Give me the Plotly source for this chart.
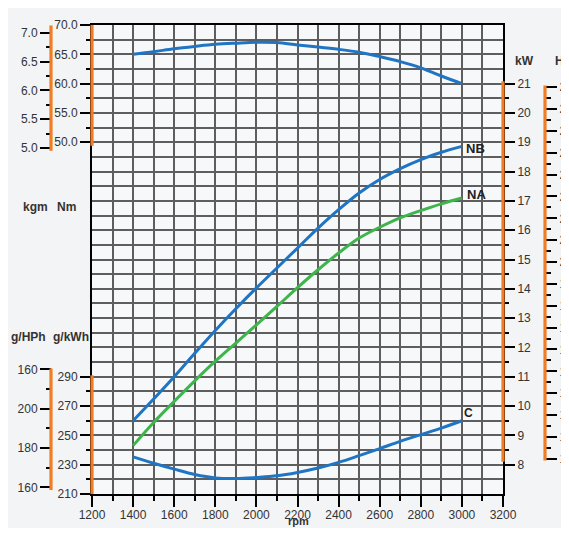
import plotly.graph_objects as go

# ---------------- data ----------------
rpm = [1400, 1500, 1600, 1700, 1800, 1900, 2000, 2100, 2200,
       2300, 2400, 2500, 2600, 2700, 2800, 2900, 3000]
torque_nm = [65.0, 65.45, 65.95, 66.35, 66.7, 66.9, 67.05, 67.0, 66.6,
             66.25, 65.85, 65.35, 64.6, 63.75, 62.7, 61.3, 60.0]
power_nb_kw = [9.5, 10.24, 11.0, 11.8, 12.58, 13.32, 14.03, 14.71, 15.39,
               16.07, 16.7, 17.27, 17.73, 18.1, 18.41, 18.66, 18.86]
power_na_kw = [8.65, 9.44, 10.16, 10.86, 11.53, 12.15, 12.77, 13.4, 14.04,
               14.65, 15.22, 15.73, 16.1, 16.42, 16.67, 16.9, 17.1]
bsfc_c = [235.3, 231.0, 227.0, 223.3, 221.0, 220.6, 221.3, 222.4, 224.7,
          227.7, 231.6, 236.2, 241.0, 245.9, 250.5, 255.0, 260.0]

x_ticks = list(range(1200, 3201, 200))
nm_ticks = [50.0, 55.0, 60.0, 65.0, 70.0]
kgm_ticks = [5.0, 5.5, 6.0, 6.5, 7.0]
gkwh_ticks = [210, 230, 250, 270, 290]
ghph_ticks = [160, 180, 200, 220]
ghph_labels = ["160", "180", "200", "160"]
kw_ticks = list(range(8, 22))
hp_ticks = list(range(11, 29))

# unit conversions
NM_PER_KGM = 9.80665
KW_PER_HP = 0.7457

# ---------------- layout geometry ----------------
# the page body has an 8px margin, so the figure starts at (8, 8);
# keep the page from overflowing (no scrollbars)
OFF = 8
WF, HF = 569 - OFF, 536 - 2 * OFF


def px(x):
    return (x - OFF) / WF


def py(y):
    return 1 - (y - OFF) / HF


XL, XR = 92, 503
YT, YB = 25, 494
dom_x = [px(XL), px(XR)]
dom_y = [py(YB), py(YT)]
pos_left2 = px(51)
pos_right2 = px(545)

GKWH_RANGE = [210, 530]
NM_RANGE = [-10, 70]
KW_RANGE = [7, 23]

ORANGE = "#f07d24"
BLUE = "#1f74c4"
GREEN = "#3db54a"
GRID = "#5e5e5e"
TXT = "#333333"
FONT = "Liberation Sans Narrow, Arial Narrow, Liberation Sans, Arial, sans-serif"

fig = go.Figure()

fig.add_trace(go.Scatter(x=rpm, y=bsfc_c, yaxis="y", mode="lines",
                         line=dict(color=BLUE, width=3, shape="spline"),
                         name="C", hoverinfo="skip"))
fig.add_trace(go.Scatter(x=rpm, y=torque_nm, yaxis="y3", mode="lines",
                         line=dict(color=BLUE, width=3, shape="spline"),
                         name="Torque", hoverinfo="skip"))
fig.add_trace(go.Scatter(x=rpm, y=power_nb_kw, yaxis="y5", mode="lines",
                         line=dict(color=BLUE, width=3, shape="spline"),
                         name="NB", hoverinfo="skip"))
fig.add_trace(go.Scatter(x=rpm, y=power_na_kw, yaxis="y5", mode="lines",
                         line=dict(color=GREEN, width=3, shape="spline"),
                         name="NA", hoverinfo="skip"))
# empty traces so that the tick-only axes are registered
for ax in ("y2", "y4", "y6", "y7"):
    fig.add_trace(go.Scatter(x=[None], y=[None], yaxis=ax, mode="lines",
                             showlegend=False, hoverinfo="skip"))

tickfont = dict(family=FONT, size=12, color=TXT)


def mids(vals):
    return [(a + b) / 2 for a, b in zip(vals[:-1], vals[1:])]


def minor_ticks(vals):
    return dict(tickvals=mids(vals), ticks="outside", ticklen=5,
                tickwidth=1.5, tickcolor="black", showgrid=False)


common_tick_axis = dict(showgrid=False, zeroline=False, showline=False,
                        ticks="outside", ticklen=11, tickwidth=1.5,
                        tickcolor="black", tickfont=tickfont,
                        tickmode="array", fixedrange=True, automargin=False,
                        ticklabeloverflow="allow")

fig.update_layout(
    width=WF, height=HF, autosize=False,
    margin=dict(l=0, r=0, t=0, b=0, pad=0),
    paper_bgcolor="#f3f4f5",
    plot_bgcolor="#f7f8f9",
    showlegend=False,
    xaxis=dict(domain=dom_x, range=[1200, 3200], anchor="y",
               showgrid=True, gridcolor=GRID, gridwidth=1.6,
               tickmode="array", tickvals=x_ticks,
               ticks="outside", ticklen=11, tickwidth=1.5, tickcolor="black",
               ticklabelstandoff=-2,
               minor=dict(tickvals=mids(x_ticks), ticks="outside", ticklen=5,
                          tickwidth=1.5, tickcolor="black", showgrid=True,
                          gridcolor=GRID, gridwidth=1.6),
               showline=True, linecolor="black", linewidth=1.6, mirror=True,
               zeroline=False, tickfont=tickfont, fixedrange=True,
               automargin=False, ticklabeloverflow="allow"),
    # grid axis (g/kWh scale)
    yaxis=dict(domain=dom_y, range=GKWH_RANGE, anchor="x",
               tickmode="linear", tick0=210, dtick=10,
               showgrid=True, gridcolor=GRID, gridwidth=1.6,
               showticklabels=False, ticks="",
               showline=True, linecolor="black", linewidth=1.6, mirror=True,
               zeroline=False, fixedrange=True, automargin=False),
    # g/kWh ticks
    yaxis2=dict(common_tick_axis, overlaying="y", anchor="x", side="left",
                range=GKWH_RANGE, tickvals=gkwh_ticks,
                minor=minor_ticks(gkwh_ticks)),
    # Nm
    yaxis3=dict(common_tick_axis, overlaying="y", anchor="x", side="left",
                range=NM_RANGE, tickvals=nm_ticks, tickformat=".1f",
                minor=minor_ticks(nm_ticks)),
    # kgm
    yaxis4=dict(common_tick_axis, overlaying="y", anchor="free",
                position=pos_left2, side="left",
                range=[NM_RANGE[0] / NM_PER_KGM, NM_RANGE[1] / NM_PER_KGM],
                tickvals=kgm_ticks, tickformat=".1f",
                minor=minor_ticks(kgm_ticks)),
    # kW
    yaxis5=dict(common_tick_axis, overlaying="y", anchor="x", side="right",
                range=KW_RANGE, tickvals=kw_ticks,
                minor=minor_ticks(kw_ticks)),
    # HP
    yaxis6=dict(common_tick_axis, overlaying="y", anchor="free",
                position=pos_right2, side="right",
                range=[KW_RANGE[0] / KW_PER_HP, KW_RANGE[1] / KW_PER_HP],
                tickvals=hp_ticks, minor=minor_ticks(hp_ticks)),
    # g/HPh
    yaxis7=dict(common_tick_axis, overlaying="y", anchor="free",
                position=pos_left2, side="left",
                range=[GKWH_RANGE[0] * KW_PER_HP, GKWH_RANGE[1] * KW_PER_HP],
                tickvals=ghph_ticks, ticktext=ghph_labels,
                minor=minor_ticks(ghph_ticks)),
)

# orange axis bars
bars = [
    ("y3", dom_x[0], 49.4, 70.6),
    ("y2", dom_x[0], 209.5, 291.0),
    ("y4", pos_left2, 4.95, 7.13),
    ("y7", pos_left2, 158.6, 220.5),
    ("y5", dom_x[1], 8.1, 21.08),
    ("y6", pos_right2, 10.92, 28.07),
]
for yref, xp, y0, y1 in bars:
    fig.add_shape(type="line", xref="paper", yref=yref, x0=xp, x1=xp,
                  y0=y0, y1=y1, line=dict(color=ORANGE, width=3.2),
                  layer="above")

# curve labels
lab_font = dict(family="Liberation Sans, Arial, sans-serif", size=13,
                color="#222222")
fig.add_annotation(x=rpm[-1], y=power_nb_kw[-1], xref="x", yref="y5",
                   text="<b>NB</b>", showarrow=False, xanchor="left",
                   yanchor="middle", xshift=2, yshift=-2, font=lab_font)
fig.add_annotation(x=rpm[-1], y=power_na_kw[-1], xref="x", yref="y5",
                   text="<b>NA</b>", showarrow=False, xanchor="left",
                   yanchor="middle", xshift=3, yshift=3, font=lab_font)
fig.add_annotation(x=rpm[-1], y=bsfc_c[-1], xref="x", yref="y",
                   text="<b>C</b>", showarrow=False, xanchor="left",
                   yanchor="middle", xshift=0, yshift=8,
                   font=dict(lab_font, size=12))

# axis titles
title_font = dict(family="Liberation Sans, Arial, sans-serif", size=12,
                  color=TXT)


def px_ann(text, x, y, xanchor="center", size=12):
    fig.add_annotation(x=px(x), y=py(y), xref="paper", yref="paper",
                       text=text, showarrow=False, xanchor=xanchor,
                       yanchor="middle", font=dict(title_font, size=size))


px_ann("<b>kgm</b>", 35, 207)
px_ann("<b>Nm</b>", 66, 207)
px_ann("<b>g/HPh</b>", 28, 337)
px_ann("<b>g/kWh</b>", 71, 337)
px_ann("<b>kW</b>", 524, 61)
px_ann("<b>HP</b>", 553, 61, xanchor="left")
px_ann("<b>rpm</b>", 298, 521, size=11)

fig.write_html("out.html")
